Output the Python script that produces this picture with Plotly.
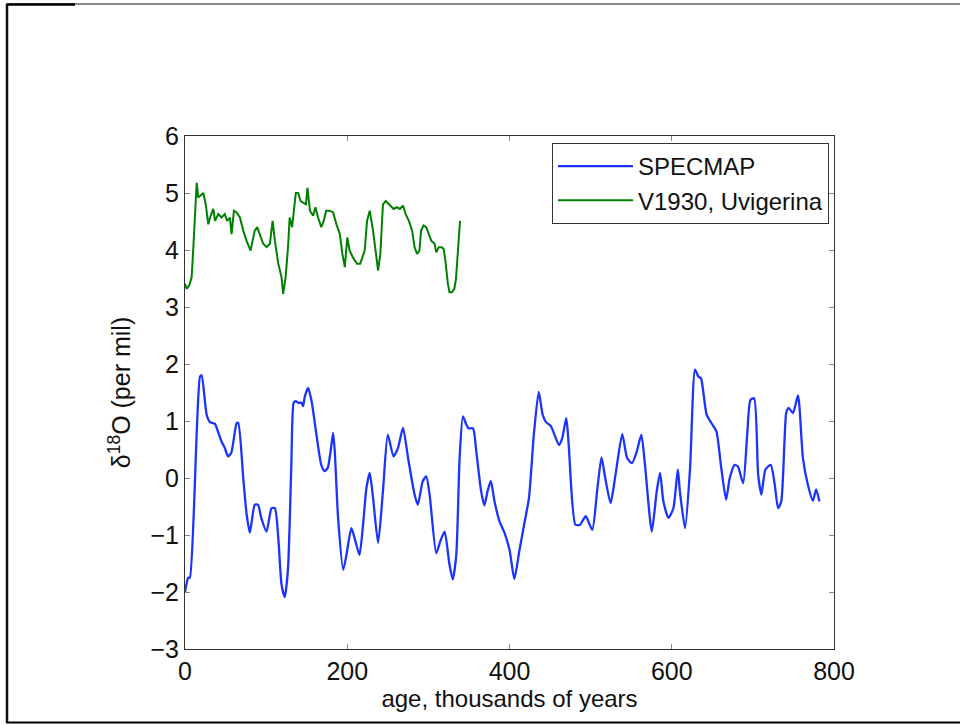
import plotly.graph_objects as go

# SPECMAP stacked d18O (normalized), age in kyr
specmap_age = [0, 4, 6, 18.5, 20.5, 26.7, 30.8, 37, 39, 45, 49, 53, 57, 63.6, 65.6, 71.8, 76, 80,
               86, 90, 94, 100.5, 106.7, 110.8, 115, 119, 123, 127, 131, 134, 136.6, 139.5, 143.6,
               145.6, 147.7, 151.8, 156, 162, 168, 172, 176, 180.5, 182.6, 184.6, 188.7, 195, 199,
               205, 209, 215, 219.5, 223.6, 227.7, 231.8, 238, 244, 250, 257, 262.6, 268.7, 275,
               283, 287, 293, 297.4, 301.5, 309.7, 314.7, 320, 326, 330, 334.4, 338.5, 342.6,
               346.7, 349.5, 355, 359, 365, 369, 373, 377, 381.5, 387.7, 393.8, 400, 406, 412,
               418, 424, 430, 436, 440.9, 445, 451, 461, 465, 470, 473, 481.3, 487, 494, 502, 508,
               513.4, 518, 524.6, 530.7, 539, 545, 551, 557, 562.5, 567, 575.4, 581.5, 585.6,
               589.7, 596, 602, 607.5, 610, 616.4, 622.6, 628.7, 632.8, 636, 643, 649, 655, 661,
               667, 671.5, 677.6, 681.6, 688, 693, 697, 701.5, 706.5, 710.5, 715.5, 722, 727, 731,
               735, 741.1, 744, 749.5, 755.6, 761.7, 767.8, 774, 778, 782]
specmap_d18o = [-2.0, -1.75, -1.75, 1.78, 1.80, 1.11, 0.98, 0.95, 0.88, 0.64, 0.53, 0.38, 0.44,
                0.96, 0.97, 0.0, -0.64, -0.96, -0.47, -0.47, -0.70, -0.94, -0.53, -0.53, -1.05,
                -1.87, -2.09, -1.58, 0.18, 1.32, 1.35, 1.32, 1.32, 1.26, 1.43, 1.58, 1.35, 0.76,
                0.23, 0.12, 0.18, 0.58, 0.79, 0.47, -0.70, -1.61, -1.35, -0.88, -1.05, -1.35,
                -0.82, -0.18, 0.09, -0.35, -1.14, -0.23, 0.76, 0.38, 0.53, 0.88, 0.35, -0.29,
                -0.47, -0.06, 0.03, -0.29, -1.32, -1.11, -0.94, -1.52, -1.78, -1.35, 0.35, 1.08,
                0.94, 0.87, 0.87, 0.47, -0.23, -0.48, -0.23, -0.05, -0.41, -0.76, -0.96, -1.26,
                -1.77, -1.29, -0.82, -0.35, 0.76, 1.51, 1.11, 0.98, 0.91, 0.58, 0.70, 1.05, 0.58,
                -0.82, -0.82, -0.67, -0.91, -0.23, 0.36, 0.0, -0.44, 0.06, 0.77, 0.35, 0.26, 0.47,
                0.76, 0.23, -0.94, -0.23, 0.09, -0.41, -0.70, -0.53, 0.15, -0.23, -0.88, 0.18,
                1.90, 1.78, 1.75, 1.11, 0.96, 0.82, 0.18, -0.38, 0.0, 0.23, 0.20, -0.09, 0.76,
                1.37, 1.40, 0.06, -0.29, 0.15, 0.23, -0.12, -0.53, -0.41, 1.14, 1.23, 1.14, 1.45,
                0.35, -0.12, -0.40, -0.20, -0.41]

# V19-30 core, Uvigerina benthic d18O
v1930_age = [0, 2, 5.3, 8.2, 10.3, 12.3, 14.4, 16.4, 19.3, 22.6, 25.8, 28.7, 31.6, 34.9, 37, 41,
             45, 49, 52, 55.4, 57.4, 60.3, 63.6, 67.7, 71.8, 75.9, 80.8, 86, 89, 92.3, 96.4,
             100.5, 104.6, 108, 110.8, 115, 119, 121, 124, 127, 129, 132, 134, 136.6, 139.5,
             142.4, 145.6, 149, 151, 154, 158, 160.8, 164, 168, 171, 174, 178.5, 182.6, 186.7,
             190.8, 194, 197, 200, 203, 207, 212, 216, 219.5, 221.5, 224.4, 227.7, 231.8, 235,
             238, 240.8, 244, 247.5, 250, 253, 257, 261, 265, 268.7, 272, 276, 280, 283, 286,
             289, 291, 294, 297.4, 300.7, 303.6, 307.7, 309.7, 313, 316, 318.8, 321, 324, 326,
             329, 332, 334, 336.4, 339]
v1930_d18o = [3.41, 3.32, 3.38, 3.52, 4.05, 4.60, 5.18, 4.92, 4.95, 5.0, 4.78, 4.45, 4.60, 4.72,
              4.51, 4.63, 4.57, 4.63, 4.51, 4.57, 4.28, 4.69, 4.66, 4.57, 4.34, 4.16, 3.99, 4.34,
              4.40, 4.28, 4.11, 4.05, 4.11, 4.51, 4.16, 3.76, 3.52, 3.23, 3.52, 4.05, 4.57, 4.40,
              4.69, 5.0, 5.0, 4.86, 4.83, 4.80, 5.09, 4.69, 4.60, 4.75, 4.57, 4.40, 4.51, 4.69,
              4.69, 4.66, 4.45, 4.28, 3.93, 3.70, 4.22, 3.99, 3.87, 3.76, 3.76, 3.90, 3.99, 4.51,
              4.69, 4.34, 3.93, 3.64, 3.93, 4.80, 4.86, 4.83, 4.78, 4.72, 4.75, 4.72, 4.78, 4.63,
              4.51, 4.34, 4.05, 3.93, 3.99, 4.34, 4.43, 4.40, 4.28, 4.16, 4.11, 3.96, 4.05, 4.05,
              4.02, 3.81, 3.41, 3.26, 3.26, 3.32, 3.49, 3.93, 4.51]

x_ticks = [0, 200, 400, 600, 800]
y_ticks = [-3, -2, -1, 0, 1, 2, 3, 4, 5, 6]

FONT = "Liberation Sans, Arial, Helvetica, sans-serif"
FS = 25

fig = go.Figure()
fig.add_trace(go.Scatter(x=specmap_age, y=specmap_d18o, mode="lines", name="SPECMAP",
                         line=dict(color="#1a33ff", width=2.3, shape="spline", smoothing=0.6)))
fig.add_trace(go.Scatter(x=v1930_age, y=v1930_d18o, mode="lines", name="V1930, Uvigerina",
                         line=dict(color="#008000", width=2)))

axis_common = dict(showline=True, linecolor="#333333", linewidth=1, mirror="ticks",
                   ticks="inside", ticklen=5, tickcolor="#888888", showgrid=False,
                   zeroline=False, tickfont=dict(family=FONT, size=FS, color="#111111"))

fig.update_xaxes(range=[0, 800], tickvals=x_ticks, ticktext=[str(v) for v in x_ticks],
                 title=dict(text="age, thousands of years", font=dict(family=FONT, size=24, color="#111111"),
                            standoff=0),
                 **axis_common)
fig.update_yaxes(range=[-3, 6], tickvals=y_ticks,
                 title=dict(text="δ<sup>18</sup>O (per mil)", font=dict(family=FONT, size=FS, color="#111111"),
                            standoff=12),
                 **axis_common)

W, H = 960, 725
L, R, T, B = 185, 834, 136, 649
pw, ph = R - L, B - T

def px(xp):
    return (xp - L) / pw

def py(yp):
    return (B - yp) / ph

shapes = [
    dict(type="line", xref="paper", yref="paper", x0=px(6.5), x1=px(960), y0=py(4), y1=py(4),
         line=dict(color="#666666", width=1.5)),
    dict(type="line", xref="paper", yref="paper", x0=px(6.5), x1=px(75), y0=py(4.5), y1=py(4.5),
         line=dict(color="#000000", width=2.5)),
    dict(type="line", xref="paper", yref="paper", x0=px(7), x1=px(7), y0=py(4), y1=py(723),
         line=dict(color="#111111", width=2.5)),
    dict(type="line", xref="paper", yref="paper", x0=px(6.5), x1=px(960), y0=py(722.5), y1=py(722.5),
         line=dict(color="#000000", width=2)),
]

fig.update_layout(
    width=W, height=H,
    margin=dict(l=L, r=W - R, t=T, b=H - B),
    paper_bgcolor="white", plot_bgcolor="white",
    font=dict(family=FONT, size=FS, color="#111111"),
    showlegend=True,
    legend=dict(x=px(829), y=py(143), xanchor="right", yanchor="top",
                bgcolor="white", bordercolor="#333333", borderwidth=1,
                font=dict(family=FONT, size=24, color="#111111"),
                tracegroupgap=0, itemwidth=75),
    shapes=shapes,
)

fig.write_html("out.html", config={"displayModeBar": False},
               post_script="document.body.style.margin='0';document.body.style.padding='0';"
                           "document.body.style.overflow='hidden';")
